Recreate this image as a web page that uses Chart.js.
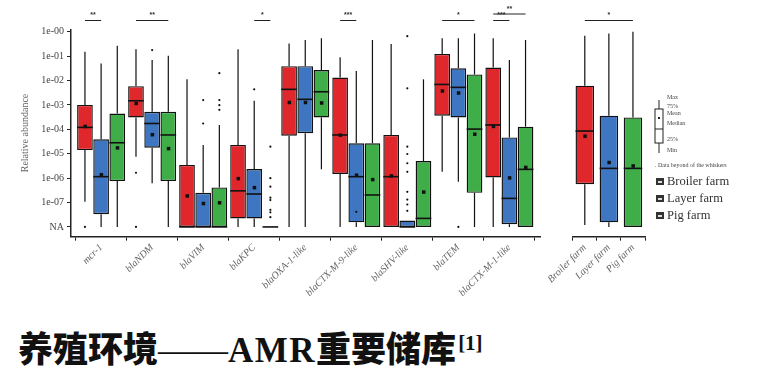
<!DOCTYPE html>
<html>
<head>
<meta charset="utf-8">
<script src="https://cdn.jsdelivr.net/npm/chart.js@4"></script>
<style>
  body { margin: 0; background: #fff; width: 768px; height: 384px; overflow: hidden; position: relative; }
  canvas { position: absolute; top: 0; }
  #main { left: 0; }
  #side { left: 548px; }
  #title { position: absolute; left: 18px; top: 326px; font-size: 35px; line-height: 35px; color: #111; white-space: nowrap; }
  #title .cjk { font-family: "Noto Sans CJK SC"; font-weight: 900; }
  #title .lat { font-family: "Liberation Serif"; font-weight: bold; letter-spacing: 1.5px; }
  #title .dash { font-family: "Liberation Serif"; font-weight: normal; }
  #title sup { font-family: "Liberation Serif"; font-weight: bold; font-size: 21px; vertical-align: 12px; margin-left: 2px; }
</style>
</head>
<body>
<canvas id="main" width="548" height="300"></canvas>
<canvas id="side" width="220" height="300"></canvas>
<div id="title"><span class="cjk">养殖环境</span><span class="dash">——</span><span class="lat">AMR</span><span class="cjk">重要储库</span><sup>[1]</sup></div>
<script>
// values are log10(relative abundance), NA plotted as -8
const genes = ['mcr-1', 'blaNDM', 'blaVIM', 'blaKPC', 'blaOXA-1-like', 'blaCTX-M-9-like', 'blaSHV-like', 'blaTEM', 'blaCTX-M-1-like'];
const farms = ['Broiler farm', 'Layer farm', 'Pig farm'];
const farmColors = ['#e0282c', '#3e76c1', '#3fae49'];

const yTickVals = [-8, -7, -6, -5, -4, -3, -2, -1, 0];
const yTickLabels = ['NA', '1e-07', '1e-06', '1e-05', '1e-04', '1e-03', '1e-02', '1e-01', '1e-00'];

// [min, q1, median, q3, max] per gene
const broilerBox = [[-6.97, -4.85, -3.92, -3.0, -0.82], [-5.12, -3.51, -2.83, -2.23, -0.72], [-8, -8, -8, -5.46, -1.95],
  [-8, -7.65, -6.52, -4.64, -0.72], [-8, -4.26, -2.36, -1.41, -0.48], [-8, -5.83, -4.23, -1.88, -1.05],
  [-8, -8, -5.94, -4.23, -0.5], [-5.74, -3.44, -2.16, -0.91, -0.27], [-8, -5.97, -3.82, -1.47, -0.27]];
const layerBox = [[-8, -7.48, -5.94, -4.41, -1.3], [-6.21, -4.75, -3.76, -3.28, -1.16], [-8, -8, -8, -6.6, -4.64],
  [-8, -7.65, -6.65, -5.63, -2.83], [-8, -4.16, -2.77, -1.41, -0.34], [-8, -7.81, -5.94, -4.57, -1.61],
  [-8, -8, -8, -7.74, -7.74], [-6.15, -3.51, -2.28, -1.5, -0.27], [-8, -7.89, -6.83, -4.33, -1.16]];
const pigBox = [[-8, -6.12, -4.55, -3.35, -0.57], [-8, -6.12, -4.23, -3.28, -0.98], [-8, -8, -8, -6.38, -3.82],
  [-8, -8, -8, -8, -8], [-5.64, -3.51, -2.46, -1.57, -0.27], [-8, -8, -6.69, -4.57, -0.34],
  [-8, -8, -7.65, -5.3, -1.95], [-8, -6.6, -3.99, -1.75, -0.07], [-8, -8, -5.64, -3.89, -0.34]];

const broilerMean = [-3.87, -2.93, -6.72, -6.01, -2.89, -4.23, -5.9, -2.42, -3.87];
const layerMean = [-5.85, -4.21, -7.03, -6.38, -2.89, -5.87, null, -2.5, -5.98];
const pigMean = [-4.75, -4.78, -7.0, null, -2.91, -6.05, -6.56, -4.19, -5.55];

const broilerOut = [[-8], [-5.78, -8], [], [], [], [], [], [], []];
const layerOut = [[], [-0.75], [-2.8, -3.76], [-2.36], [], [-7.38],
  [-0.18, -2.32, -4.71, -5.01, -5.39, -5.74, -6.56, -6.88, -7.08, -7.34], [-8], []];
const pigOut = [[], [], [-1.7, -2.8, -3.01, -3.2], [-4.71, -6.0, -6.35, -6.8, -6.9, -7.3, -7.4, -7.6], [], [], [], [], []];

// pooled per farm type
const farmBox = [[-7.92, -6.25, -4.07, -2.21, -0.16], [-8, -7.81, -5.6, -3.44, -0.07], [-8, -8, -5.6, -3.51, 0]];
const farmMean = [-4.27, -5.35, -5.49];

// significance marks: gene index, dataset from/to, label, row
const geneSig = [[0, 0, 1, '**', 0], [1, 0, 2, '**', 0], [3, 1, 2, '*', 0], [5, 0, 1, '***', 0],
  [7, 0, 2, '*', 0], [8, 0, 1, '***', 0], [8, 0, 2, '**', 1]];
const farmSig = [[0, 2, '*']];

const yMin = -8.4, yMax = 0.1;

const boxPlugin = {
  id: 'boxes',
  beforeDatasetsDraw(chart) {
    const ctx = chart.ctx, y = chart.scales.y;
    ctx.save();
    ctx.strokeStyle = '#111';
    ctx.lineWidth = 1.2;
    chart.data.datasets.forEach((ds, i) => {
      chart.getDatasetMeta(i).data.forEach((el, j) => {
        const s = ds.stats[j];
        ctx.beginPath();
        ctx.moveTo(el.x, y.getPixelForValue(s[4]));
        ctx.lineTo(el.x, y.getPixelForValue(s[3]));
        ctx.moveTo(el.x, y.getPixelForValue(s[1]));
        ctx.lineTo(el.x, y.getPixelForValue(s[0]));
        ctx.stroke();
      });
    });
    ctx.restore();
  },
  afterDatasetsDraw(chart) {
    const ctx = chart.ctx, y = chart.scales.y;
    ctx.save();
    ctx.strokeStyle = '#111';
    ctx.fillStyle = '#111';
    chart.data.datasets.forEach((ds, i) => {
      chart.getDatasetMeta(i).data.forEach((el, j) => {
        const s = ds.stats[j];
        const py = y.getPixelForValue(s[2]);
        ctx.lineWidth = 1.6;
        ctx.beginPath();
        ctx.moveTo(el.x - el.width / 2, py);
        ctx.lineTo(el.x + el.width / 2, py);
        ctx.stroke();
        const m = ds.means[j];
        if (m !== null && m !== undefined) {
          ctx.fillRect(el.x - 1.5, y.getPixelForValue(m) - 1.5, 3.5, 3.5);
        }
        (ds.outliers[j] || []).forEach(o => {
          ctx.beginPath();
          ctx.arc(el.x, y.getPixelForValue(o), 1.1, 0, Math.PI * 2);
          ctx.fill();
        });
      });
    });
    ctx.restore();
  }
};

function drawSig(ctx, x1, x2, row, label) {
  const ly = 20.5 - row * 6.5;
  ctx.beginPath();
  ctx.moveTo(x1, ly);
  ctx.lineTo(x2, ly);
  ctx.stroke();
  ctx.fillText(label, (x1 + x2) / 2, ly - 1.5);
}

const sigPlugin = {
  id: 'sig',
  afterDraw(chart) {
    const ctx = chart.ctx;
    ctx.save();
    ctx.strokeStyle = '#222';
    ctx.fillStyle = '#333';
    ctx.lineWidth = 1;
    ctx.font = 'bold 7px "Liberation Sans"';
    ctx.textAlign = 'center';
    ctx.textBaseline = 'bottom';
    if (chart.canvas.id === 'main') {
      geneSig.forEach(s => {
        const x1 = chart.getDatasetMeta(s[1]).data[s[0]].x;
        const x2 = chart.getDatasetMeta(s[2]).data[s[0]].x;
        drawSig(ctx, x1, x2, s[4], s[3]);
      });
    } else {
      const bars = chart.getDatasetMeta(0).data;
      farmSig.forEach(s => drawSig(ctx, bars[s[0]].x, bars[s[1]].x, 0, s[2]));
    }
    ctx.restore();
  }
};

// legend on the right, drawn on the side canvas
const keyPlugin = {
  id: 'key',
  afterDraw(chart) {
    const ctx = chart.ctx;
    const ox = -548;
    ctx.save();
    ctx.strokeStyle = '#222';
    ctx.fillStyle = '#fff';
    ctx.lineWidth = 1;
    ctx.beginPath();
    ctx.moveTo(659 + ox, 100);
    ctx.lineTo(659 + ox, 153);
    ctx.stroke();
    ctx.fillRect(655 + ox, 109, 8, 34);
    ctx.strokeRect(655 + ox, 109, 8, 34);
    ctx.beginPath();
    ctx.moveTo(655 + ox, 129);
    ctx.lineTo(663 + ox, 129);
    ctx.stroke();
    ctx.fillStyle = '#222';
    ctx.fillRect(658 + ox, 117, 2, 2);

    ctx.font = '6px "Liberation Serif"';
    ctx.fillStyle = '#444';
    ctx.textBaseline = 'middle';
    [['Max', 97], ['75%', 106], ['Mean', 113], ['Median', 123], ['25%', 139], ['Min', 150]].forEach(t => {
      ctx.fillText(t[0], 667 + ox, t[1]);
    });
    ctx.fillText('. Data beyond of the whiskers', 655 + ox, 165);

    ctx.font = '12.5px "Liberation Serif"';
    farms.forEach((f, i) => {
      const iy = 182 + i * 17;
      ctx.fillStyle = '#333';
      ctx.fillRect(656 + ox, iy - 4, 8, 7);
      ctx.fillStyle = '#ddd';
      ctx.fillRect(658 + ox, iy - 1, 4, 2);
      ctx.fillStyle = '#333';
      ctx.fillText(f, 667 + ox, iy);
    });
    ctx.restore();
  }
};

const xTickFont = { family: 'Liberation Serif', style: 'italic', size: 10 };

function xAxis(extra, labelFn) {
  const ticks = { autoSkip: false, maxRotation: 45, minRotation: 45, font: xTickFont, color: '#666', padding: 1 };
  if (labelFn) ticks.callback = labelFn;
  return Object.assign({
    grid: { display: true, drawOnChartArea: false, drawTicks: true, tickLength: 4, color: '#222' },
    border: { color: '#222', width: 1.5 },
    ticks: ticks,
    afterFit: s => { s.height = 300 - 236.7; }
  }, extra);
}

const mainSets = [broilerBox, layerBox, pigBox].map((box, i) => ({
  label: farms[i],
  data: box.map((b, j) => ({ x: j, y: [b[1], b[3]] })),
  stats: box,
  means: [broilerMean, layerMean, pigMean][i],
  outliers: [broilerOut, layerOut, pigOut][i],
  backgroundColor: farmColors[i],
  borderColor: '#111',
  borderWidth: 1.4,
  borderSkipped: false,
  barPercentage: 0.97,
  categoryPercentage: 0.95
}));

new Chart(document.getElementById('main'), {
  type: 'bar',
  data: { datasets: mainSets },
  options: {
    responsive: false,
    animation: false,
    layout: { padding: { top: 29.3, right: 8, left: 0, bottom: 0 } },
    plugins: { legend: { display: false }, tooltip: { enabled: false } },
    scales: {
      // linear x so the gene groups sit a little in from the y axis, as in the figure
      x: xAxis({
        type: 'linear',
        offset: false,
        min: -0.59,
        max: 8.6,
        afterBuildTicks: s => { s.ticks = genes.map((g, j) => ({ value: j })); }
      }, v => genes[v]),
      y: {
        min: yMin,
        max: yMax,
        afterBuildTicks: s => { s.ticks = yTickVals.map(v => ({ value: v })); },
        grid: { display: true, drawOnChartArea: false, drawTicks: true, tickLength: 4, color: '#222' },
        border: { color: '#222', width: 1.5 },
        ticks: {
          font: { family: 'Liberation Serif', size: 10 },
          color: '#444',
          padding: 3,
          callback: v => yTickLabels[yTickVals.indexOf(v)]
        },
        title: {
          display: true,
          text: 'Relative abundance',
          font: { family: 'Liberation Serif', size: 10 },
          color: '#666',
          padding: { top: 19, bottom: 0 }
        },
        afterFit: s => { s.width = 71; }
      }
    }
  },
  plugins: [boxPlugin, sigPlugin]
});

new Chart(document.getElementById('side'), {
  type: 'bar',
  data: {
    labels: farms,
    datasets: [{
      label: 'Farm type',
      data: farmBox.map(b => [b[1], b[3]]),
      stats: farmBox,
      means: farmMean,
      outliers: [[], [], []],
      backgroundColor: farmColors,
      borderColor: '#111',
      borderWidth: 1.4,
      borderSkipped: false,
      barPercentage: 0.8,
      categoryPercentage: 0.96
    }]
  },
  options: {
    responsive: false,
    animation: false,
    layout: { padding: { top: 29.3, right: 123, left: 3, bottom: 0 } },
    plugins: { legend: { display: false }, tooltip: { enabled: false } },
    scales: {
      x: xAxis(),
      y: { display: false, min: yMin, max: yMax }
    }
  },
  plugins: [boxPlugin, sigPlugin, keyPlugin]
});
</script>
</body>
</html>
